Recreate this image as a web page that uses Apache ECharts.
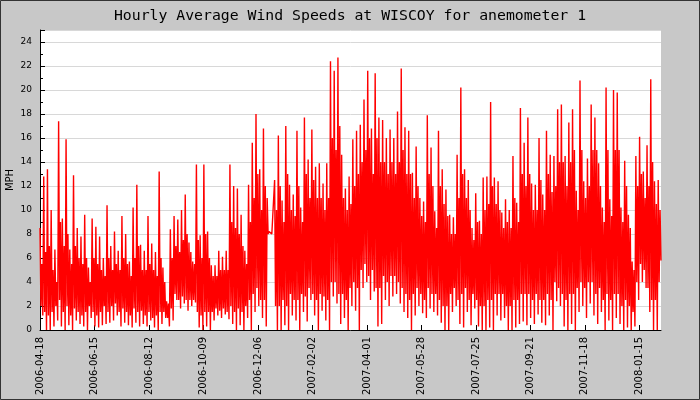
<!DOCTYPE html>
<html>
<head>
<meta charset="utf-8">
<script src="https://cdn.jsdelivr.net/npm/echarts@6/dist/echarts.min.js"></script>
<style>
  body { margin: 0; background: #c8c8c8; }
  #chart { width: 700px; height: 400px; }
</style>
</head>
<body>
<div id="chart"></div>
<script>
// Hourly wind speed, 4 readings per ~4 days
// (2006-04-18 .. ~2008-02-08): the spike, the dense band's low and high edges, the dip
const peaks = [
  8.5, 12.8, 13.4, 10, 6.7, 17.4, 9.3, 15.9, 6.7, 12.9, 8.5, 7.8, 9.6, 5.2, 9.3, 8.6, 7.8, 6, 10.4, 7, 8.2, 6.6, 9.5, 8, 5.7, 10.2, 12.1, 7.1,
  6.6, 9.5, 7.2, 6.5, 13.2, 5.2, 2.4, 8.4, 9.5, 9.2, 10, 11.3, 7.3, 5.7, 13.8, 7.9, 13.8, 8.2, 5.4, 5.4, 6.6, 6.1, 6.6, 13.8, 12.0, 11.8, 9.6, 6.6,
  12.1, 15.6, 18, 13.4, 16.8, 11, 8.2, 12.5, 16.2, 10.8, 17, 12.1, 11.3, 16.6, 10.2, 17.7, 14.2, 16.7, 13.6, 13.9, 12.2, 13.9, 22.4, 21.6, 22.7, 14.6, 11.8, 12.8,
  15.9, 16.6, 17.1, 19.2, 21.6, 16.8, 21.4, 17.7, 17.5, 16, 16.7, 16, 18.2, 21.8, 16.9, 16.6, 13.1, 15.3, 11, 10.7, 17.9, 15.2, 9.9, 16.6, 13.4, 11.7, 9.6, 9.4,
  14.6, 20.2, 13.4, 12.5, 8.5, 11.4, 9.1, 12.7, 12.8, 19, 12.7, 12.4, 9.8, 10.9, 10, 14.5, 10.6, 18.5, 15.6, 17.7, 12.2, 12.1, 16, 11.3, 16.6, 14.6, 14.5, 18.4,
  18.8, 14.5, 17.3, 18.4, 11.6, 20.8, 12.4, 14.3, 18.8, 17.7, 13.9, 10.2, 20.2, 10.9, 20, 19.8, 10.2, 14.1, 9.6, 5.7, 14.5, 16.1, 13.2, 15.4, 20.9, 12.4, 12.5
];
const bandLow = [
  2, 1.5, 1.2, 1.5, 2, 2.5, 1.5, 2, 1.2, 1.8, 1.5, 1.2, 1.5, 2, 1.5, 1.2, 1.5, 2.0, 1.5, 2.0, 2.2, 1.5, 1.8, 1.5, 1.2, 1.8, 1.5, 1.6,
  1.2, 1.5, 1.0, 1.2, 1.5, 1.5, 1.0, 1.8, 3.0, 2.5, 2.8, 2.5, 2.5, 2.5, 1.5, 1.2, 1.5, 1.5, 1.5, 1.8, 1.6, 1.8, 1.5, 2.0, 1.5, 1.8, 1.5, 2.0,
  2.5, 3.0, 3.5, 2.5, 2.5, 8.0, 8.0, 2.0, 2.0, 2.5, 2.0, 3.0, 2.5, 2.5, 3.0, 2.8, 3.5, 3.0, 2.5, 3.0, 2.8, 2.5, 4.0, 4.0, 3.0, 3.0, 2.5, 3.5,
  4, 3.5, 5, 5.5, 4.5, 5, 3.5, 3.5, 4.5, 4, 4.5, 4.5, 4, 3.5, 3, 2.5, 3, 3.5, 3, 2.5, 3.5, 3, 3, 2.5, 2, 2.0, 3, 3.5,
  2.5, 3, 3.5, 2.5, 3, 2.5, 2, 2, 2.5, 2.5, 3, 3, 3, 2, 2, 2.5, 2.5, 3, 3, 3, 2.5, 3, 2.5, 2.5, 3, 2.5, 4, 3.5,
  3, 2.5, 3, 3, 3.5, 4, 3.5, 4, 4, 3, 3.5, 2.5, 3, 2.5, 3, 3, 2, 2.5, 2, 1.5, 4, 5.5, 5, 3.5, 2.5, 2.5, 4
];
const bandHigh = [
  5.5, 6.5, 7, 5, 4, 9, 7, 8, 5.5, 7, 6, 5.5, 6, 4, 6, 5.5, 5, 4.5, 6, 5, 5.5, 5, 6, 5.5, 4.5, 6, 7, 5,
  5, 5.5, 5, 4.5, 6, 4, 2.2, 6, 7, 6.5, 7.5, 8, 6.5, 5.5, 7.5, 6, 8, 6, 4.5, 4.5, 5, 5, 5, 9, 8.5, 8, 7, 5.5,
  9, 11, 13, 10, 12, 8.2, 8.1, 10, 12, 9, 13, 10, 9.5, 12, 9, 13, 11, 12.5, 11, 11, 10, 11, 16, 15, 17, 11, 10, 10.5,
  12, 13, 14, 15, 16, 13, 16, 14, 14, 13, 14, 13, 14, 15, 13, 13, 11, 12, 9.5, 9, 13, 12, 8.5, 12, 10.5, 9.5, 8, 8,
  11, 13, 11, 10, 7.5, 9, 8, 10, 10.5, 12, 10.5, 10, 8.5, 9, 8.5, 11, 9, 13, 12, 13, 10, 10, 12.5, 10, 13, 11.5, 12, 14,
  14, 12, 14, 15, 10, 15, 11, 12, 15, 15, 12, 9, 15, 9.5, 15, 15, 9, 12, 8.5, 5, 12, 13, 11, 12, 14, 10.5, 10
];
const lows = [
  1.2, 0, 0, 0.3, 0.8, 0.3, 0, 0.4, 0, 0.8, 0.5, 0.3, 0, 1.0, 0.3, 0.2, 0.4, 0.5, 0.6, 0.8, 1.2, 0.3, 0.6, 0.4, 0.2, 0.6, 0.3, 0.5,
  0.3, 0.8, 0.2, 0, 0.5, 1.0, 0.3, 0.8, 2.5, 1.8, 2.2, 1.6, 2.0, 2.3, 0.2, 0, 0.3, 0, 0.8, 1.2, 1.0, 1.3, 0.9, 0.5, 0, 0.4, 0, 1.0,
  0, 1.5, 2.0, 1.0, 0.3, 8.1, 8.0, 0, 0, 0.4, 0, 1.2, 0.8, 0, 1.5, 0.7, 2.5, 1.2, 0, 1.6, 0.8, 0, 2.8, 2.2, 0.5, 1.0, 0, 2.0,
  1.6, 0, 3.5, 4.0, 2.5, 3.2, 0.3, 0.5, 2.5, 2.0, 2.8, 3.0, 2.2, 1.5, 1.0, 0, 1.2, 2.0, 1.4, 1.0, 1.8, 1.5, 1.2, 0.6, 0, 0, 1.5, 2.0,
  0.5, 0.2, 1.5, 0.4, 1.8, 0.3, 0, 0, 0.2, 0, 1.2, 0.8, 1.0, 0, 0, 0.2, 0.5, 0.7, 0.4, 1.0, 0.5, 1.3, 0.6, 0.4, 1.2, 0, 2.4, 2.0,
  0.3, 0, 0.5, 0, 1.5, 2.0, 1.0, 2.2, 1.2, 0.5, 1.5, 0, 0.8, 0, 1.0, 0.5, 0, 0.2, 0, 0.3, 2.5, 4.0, 3.5, 1.5, 0, 0, 5.8
];
const tickLabels = [
  '2006-04-18', '2006-06-15', '2006-08-12', '2006-10-09', '2006-12-06', '2007-02-02',
  '2007-04-01', '2007-05-28', '2007-07-25', '2007-09-21', '2007-11-18', '2008-01-15'
];
const totalDays = 661;
const tickDays = 58;

const chart = echarts.init(document.getElementById('chart'));

// lay the readings out along the day axis in order
const readings = [];
peaks.forEach((p, i) => {
  readings.push(p, bandLow[i], bandHigh[i], lows[i]);
});
const dayStep = totalDays / (readings.length - 1);
const seriesData = readings.map((v, i) => [i * dayStep, v]);

const option = {
  backgroundColor: '#c8c8c8',
  animation: false,
  title: {
    text: 'Hourly Average Wind Speeds at WISCOY for anemometer 1',
    left: 'center',
    top: 4,
    textStyle: {
      fontFamily: 'DejaVu Sans Mono',
      fontSize: 14.8,
      fontWeight: 'normal',
      color: '#000'
    }
  },
  graphic: [{
    type: 'rect',
    shape: { x: 0.5, y: 0.5, width: 699, height: 399 },
    style: { fill: 'none', stroke: '#333', lineWidth: 1 },
    silent: true
  }],
  grid: {
    left: 40,
    right: 39,
    top: 30,
    bottom: 70,
    containLabel: false,
    outerBoundsMode: 'none',
    show: true,
    backgroundColor: '#fff',
    borderWidth: 0
  },
  xAxis: {
    type: 'value',
    min: 0,
    max: totalDays,
    interval: tickDays,
    axisLine: { show: true, lineStyle: { color: '#000', width: 1 } },
    axisTick: { show: true, inside: true, length: 5, lineStyle: { color: '#000' } },
    splitLine: { show: false },
    axisLabel: {
      rotate: 90,
      margin: 7,
      showMaxLabel: false,
      fontFamily: 'DejaVu Sans',
      fontSize: 10,
      color: '#000',
      formatter: v => tickLabels[Math.round(v / tickDays)] || ''
    }
  },
  yAxis: {
    type: 'value',
    min: 0,
    max: 25,
    interval: 2,
    name: 'MPH',
    nameLocation: 'middle',
    nameGap: 25,
    nameMoveOverlap: false,
    nameRotate: 90,
    nameTextStyle: { fontFamily: 'DejaVu Sans', fontSize: 10, color: '#000' },
    axisLine: { show: true, lineStyle: { color: '#000', width: 1 } },
    axisTick: { show: true, inside: true, length: 5, lineStyle: { color: '#000' } },
    minorTick: { show: true, splitNumber: 2, length: 3, lineStyle: { color: '#000' } },
    splitLine: { show: true, lineStyle: { color: '#d8d8d8', width: 1 } },
    axisLabel: {
      margin: 8,
      showMaxLabel: false,
      fontFamily: 'DejaVu Sans',
      fontSize: 9,
      color: '#000'
    }
  },
  series: [{
    type: 'line',
    data: seriesData,
    showSymbol: false,
    symbol: 'none',
    sampling: null,
    lineStyle: { color: '#ff0000', width: 1.4 },
    z: 3
  }]
};

chart.setOption(option);
</script>
</body>
</html>
